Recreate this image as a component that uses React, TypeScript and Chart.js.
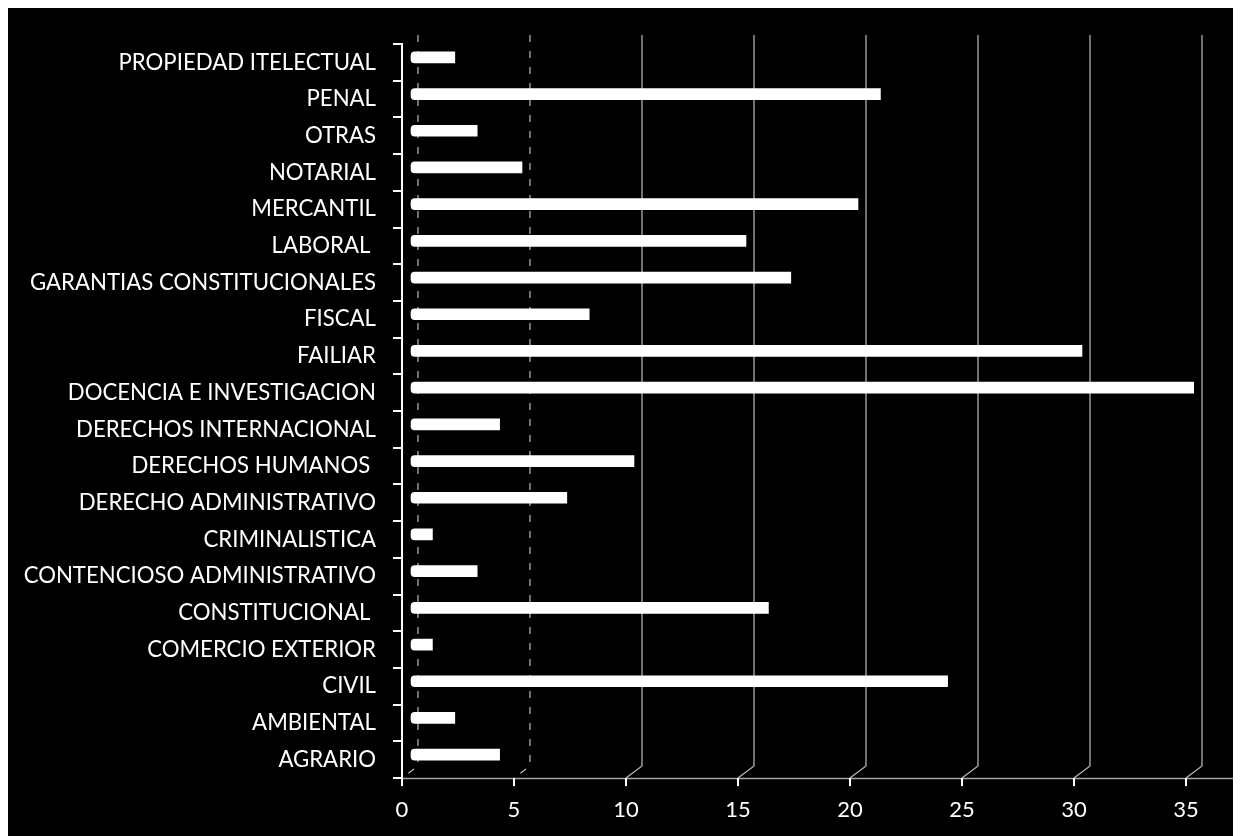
import React, { useEffect, useRef } from "react";
import { Chart, registerables } from "chart.js";

Chart.register(...registerables);

const categories = [
  "PROPIEDAD ITELECTUAL",
  "PENAL",
  "OTRAS",
  "NOTARIAL",
  "MERCANTIL",
  "LABORAL ",
  "GARANTIAS CONSTITUCIONALES",
  "FISCAL",
  "FAILIAR",
  "DOCENCIA E INVESTIGACION",
  "DERECHOS INTERNACIONAL",
  "DERECHOS HUMANOS ",
  "DERECHO ADMINISTRATIVO",
  "CRIMINALISTICA",
  "CONTENCIOSO ADMINISTRATIVO",
  "CONSTITUCIONAL ",
  "COMERCIO EXTERIOR",
  "CIVIL",
  "AMBIENTAL",
  "AGRARIO",
];

const values = [2, 21, 3, 5, 20, 15, 17, 8, 30, 35, 4, 10, 7, 1, 3, 16, 1, 24, 2, 4];

const xTicks = [0, 5, 10, 15, 20, 25, 30, 35];

const FONT = "Lato, 'Open Sans', sans-serif";

const depthPlugin = {
  id: "depth",
  beforeDraw(chart: any) {
    const { ctx, chartArea, scales } = chart;
    const x = scales.x;
    ctx.save();
    ctx.fillStyle = "#000";
    ctx.fillRect(0, 0, chart.width, chart.height);
    xTicks.forEach((v) => {
      const px = x.getPixelForValue(v);
      const gx = px + 16;
      ctx.beginPath();
      ctx.strokeStyle = "#bdbdbd";
      ctx.lineWidth = 1.2;
      if (v <= 5) ctx.setLineDash([7, 9]);
      else ctx.setLineDash([]);
      ctx.moveTo(gx, chartArea.top - 9);
      ctx.lineTo(gx, chartArea.bottom - 12);
      ctx.lineTo(px, chartArea.bottom);
      ctx.stroke();
    });
    ctx.setLineDash([]);
    ctx.beginPath();
    ctx.strokeStyle = "#a6a6a6";
    ctx.lineWidth = 1.5;
    ctx.moveTo(chartArea.left, chartArea.bottom + 0.5);
    ctx.lineTo(chart.width, chartArea.bottom + 0.5);
    ctx.stroke();
    ctx.restore();
  },
  beforeDatasetsDraw(chart: any) {
    chart.ctx.save();
    chart.ctx.translate(8, -5);
  },
  afterDatasetsDraw(chart: any) {
    chart.ctx.restore();
  },
};

export default function App() {
  const ref = useRef<HTMLCanvasElement | null>(null);

  useEffect(() => {
    if (!ref.current) return;
    const chart = new Chart(ref.current, {
      type: "bar",
      data: {
        labels: categories,
        datasets: [
          {
            data: values,
            backgroundColor: "#ffffff",
            borderWidth: 0,
            borderRadius: { topLeft: 4, bottomLeft: 4, topRight: 0, bottomRight: 0 },
            borderSkipped: false,
            barThickness: 11,
          },
        ],
      },
      options: {
        indexAxis: "y",
        responsive: false,
        animation: false,
        layout: { padding: { top: 36, right: 55, left: 0, bottom: 0 } },
        plugins: {
          legend: { display: false },
          tooltip: { enabled: false },
        },
        scales: {
          x: {
            min: 0,
            max: 35,
            afterBuildTicks(scale: any) {
              scale.ticks = xTicks.map((v) => ({ value: v }));
            },
            afterFit(scale: any) {
              scale.height = 58;
            },
            grid: {
              drawOnChartArea: false,
              drawTicks: true,
              tickLength: 8,
              color: "#ffffff",
              lineWidth: 2,
            },
            border: { display: false },
            ticks: {
              color: "#ffffff",
              font: { family: FONT, size: 22 },
              padding: 11,
            },
          },
          y: {
            afterFit(scale: any) {
              scale.width = 394;
            },
            grid: {
              offset: true,
              drawOnChartArea: false,
              drawTicks: true,
              tickLength: 9,
              color: "#ffffff",
              lineWidth: 2,
            },
            border: { display: true, color: "#ffffff", width: 2 },
            ticks: {
              color: "#ffffff",
              font: { family: FONT, size: 22.2 },
              padding: 17,
              autoSkip: false,
            },
          },
        },
      },
      plugins: [depthPlugin],
    });
    return () => chart.destroy();
  }, []);

  return <canvas ref={ref} width={1233} height={828} style={{ display: "block" }} />;
}
